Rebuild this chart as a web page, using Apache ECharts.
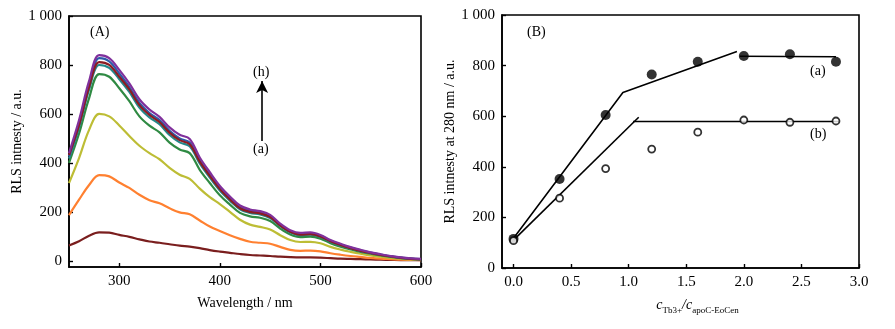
<!DOCTYPE html>
<html>
<head>
<meta charset="utf-8">
<title>RLS</title>
<script src="https://cdn.jsdelivr.net/npm/echarts@6/dist/echarts.min.js"></script>
<style>
  html, body { margin: 0; padding: 0; background: #fff; }
  #chart { width: 895px; height: 329px; }
</style>
</head>
<body>
<div id="chart"></div>
<script>
// panel A: wavelength (nm)
const wavelengths = [250, 260, 270, 280, 290, 300, 310, 320, 330, 340, 350, 360, 370, 380, 390, 400, 410, 420,
  430, 440, 450, 460, 470, 480, 490, 500, 510, 520, 530, 540, 550, 560, 570, 580, 590, 600]

// RLS spectra, curves (a) .. (h)
const curveA = [63, 80, 103, 116, 115, 106, 98, 88, 79, 74, 68, 62, 58, 52, 44, 38, 33, 28, 24, 22, 20, 17, 15, 14, 14, 13, 11, 9, 8, 7, 6, 5, 4, 3, 3, 3]
const curveB = [187, 250, 310, 350, 345, 320, 298, 270, 248, 235, 215, 198, 190, 165, 140, 122, 105, 90, 78, 74, 70, 57, 45, 41, 42, 39, 31, 25, 20, 16, 12, 9, 7, 5, 4, 3]
const curveC = [318, 420, 535, 600, 590, 553, 510, 470, 440, 415, 380, 352, 335, 295, 260, 232, 200, 168, 148, 139, 128, 105, 85, 77, 78, 72, 57, 46, 37, 29, 22, 17, 12, 8, 6, 5]
const curveD = [400, 520, 665, 763, 752, 705, 652, 590, 552, 525, 483, 455, 440, 372, 318, 268, 230, 196, 182, 176, 163, 132, 108, 97, 99, 91, 72, 58, 47, 37, 29, 22, 16, 11, 8, 6]
const curveE = [418, 545, 700, 800, 788, 742, 690, 626, 586, 558, 514, 484, 468, 398, 340, 287, 246, 211, 196, 190, 175, 142, 116, 105, 107, 98, 78, 63, 51, 40, 31, 24, 18, 12, 8, 6]
const curveF = [428, 560, 720, 828, 815, 765, 710, 645, 604, 575, 531, 500, 483, 411, 352, 298, 256, 219, 204, 197, 182, 147, 121, 109, 111, 102, 82, 67, 54, 43, 34, 26, 19, 13, 9, 7]
const curveG = [432, 555, 710, 812, 800, 752, 700, 636, 596, 567, 524, 493, 476, 405, 347, 293, 251, 215, 200, 194, 179, 145, 119, 107, 109, 100, 80, 65, 52, 41, 32, 24, 18, 12, 8, 6]
const curveH = [440, 575, 735, 840, 828, 780, 725, 660, 618, 588, 545, 515, 498, 422, 362, 306, 263, 226, 210, 203, 188, 152, 125, 114, 116, 106, 85, 70, 56, 45, 35, 27, 20, 14, 10, 8]

// panel B: c(Tb3+)/c(apoC-EoCen)
const ratios = [0, 0.4, 0.8, 1.2, 1.6, 2.0, 2.4, 2.8]
const rlsA = [115, 352, 605, 765, 815, 838, 845, 815]
const rlsB = [108, 276, 393, 470, 537, 585, 576, 581]
// fitted segments
const fitA1 = [[0, 118], [0.95, 694], [1.94, 856]]
const fitA2 = [[1.965, 837], [2.8, 835]]
const fitB1 = [[0, 110], [1.087, 596]]
const fitB2 = [[1.038, 579], [2.826, 579]]

// tick labels
const ticksA_x = [300, 400, 500, 600]
const ticksA_y = [0, 200, 400, 600, 800, 1000]
const ticksB_x = [0, 0.5, 1.0, 1.5, 2.0, 2.5, 3.0]

const curves = [curveA, curveB, curveC, curveD, curveE, curveF, curveG, curveH]
const colors = ['#7a1e1e', '#ff8030', '#bdbd35', '#2f8a43', '#23888a', '#2d5aa8', '#8b1c22', '#80309c']

const font = 'Liberation Serif'
const labelStyle = { color: '#000', fontFamily: font, fontSize: 15 }
const thousands = v => (v === 1000 ? '1 000' : String(v))

const chart = echarts.init(document.getElementById('chart'))

const seriesA = curves.map((c, i) => ({
  type: 'line',
  xAxisIndex: 0,
  yAxisIndex: 0,
  data: wavelengths.map((w, j) => [w, c[j]]),
  smooth: 0.35,
  showSymbol: false,
  lineStyle: { color: colors[i], width: 2.2 },
  z: 2 + i,
  silent: true
}))

function fitLine(data) {
  return {
    type: 'line',
    xAxisIndex: 1,
    yAxisIndex: 1,
    data: data,
    showSymbol: false,
    lineStyle: { color: '#000', width: 1.6 },
    silent: true
  }
}

chart.setOption({
  animation: false,
  grid: [
    { left: 69, top: 16, width: 352, height: 251, show: true, borderColor: '#000', borderWidth: 1.6 },
    { left: 502, top: 15, width: 357, height: 253, show: true, borderColor: '#000', borderWidth: 1.6 }
  ],
  xAxis: [
    {
      gridIndex: 0, type: 'value', min: 250, max: 600,
      name: 'Wavelength / nm', nameLocation: 'middle', nameGap: 29,
      nameTextStyle: { color: '#000', fontFamily: font, fontSize: 14 },
      axisLine: { onZero: false, lineStyle: { color: '#000', width: 1.6 } },
      axisTick: { inside: true, length: 4, customValues: ticksA_x, lineStyle: { color: '#000', width: 1.4 } },
      axisLabel: Object.assign({ customValues: ticksA_x, margin: 7 }, labelStyle),
      splitLine: { show: false }
    },
    {
      gridIndex: 1, type: 'value', min: -0.1, max: 3.0,
      name: '{i|c}{s|Tb}{u|3+}{n|/}{i|c}{s|apoC-EoCen}', nameLocation: 'middle', nameGap: 27,
      nameTextStyle: {
        color: '#000', fontFamily: font, padding: [0, 0, 0, 34],
        rich: {
          i: { fontFamily: font, fontStyle: 'italic', fontSize: 14, color: '#000', lineHeight: 20, verticalAlign: 'middle' },
          n: { fontFamily: font, fontStyle: 'italic', fontSize: 14, color: '#000', lineHeight: 20, verticalAlign: 'middle' },
          s: { fontFamily: font, fontSize: 9, color: '#000', lineHeight: 20, padding: [10, 0, 0, 0], verticalAlign: 'bottom' },
          u: { fontFamily: font, fontSize: 9, color: '#000', lineHeight: 20, padding: [5, 0, 0, 0], verticalAlign: 'bottom' }
        }
      },
      axisLine: { onZero: false, lineStyle: { color: '#000', width: 1.6 } },
      axisTick: { inside: true, length: 4, customValues: ticksB_x, lineStyle: { color: '#000', width: 1.4 } },
      axisLabel: Object.assign({ customValues: ticksB_x, margin: 7, formatter: v => v.toFixed(1) }, labelStyle),
      splitLine: { show: false }
    }
  ],
  yAxis: [
    {
      gridIndex: 0, type: 'value', min: -25, max: 1000,
      name: 'RLS intnesty / a.u.', nameLocation: 'middle', nameGap: 45,
      nameTextStyle: { color: '#000', fontFamily: font, fontSize: 14 },
      axisLine: { onZero: false, lineStyle: { color: '#000', width: 1.6 } },
      axisTick: { inside: true, length: 4, customValues: ticksA_y, lineStyle: { color: '#000', width: 1.4 } },
      axisLabel: Object.assign({ customValues: ticksA_y, margin: 7, formatter: thousands }, labelStyle),
      splitLine: { show: false }
    },
    {
      gridIndex: 1, type: 'value', min: 0, max: 1000, interval: 200,
      name: 'RLS intnesty at 280 nm / a.u.', nameLocation: 'middle', nameGap: 45,
      nameTextStyle: { color: '#000', fontFamily: font, fontSize: 14 },
      axisLine: { onZero: false, lineStyle: { color: '#000', width: 1.6 } },
      axisTick: { inside: true, length: 4, lineStyle: { color: '#000', width: 1.4 } },
      axisLabel: Object.assign({ margin: 7, formatter: thousands }, labelStyle),
      splitLine: { show: false }
    }
  ],
  series: seriesA.concat([
    // arrow (a) -> (h)
    {
      type: 'line', xAxisIndex: 0, yAxisIndex: 0, data: [], silent: true,
      markLine: {
        silent: true,
        symbol: ['none', 'arrow'],
        symbolSize: [9, 12],
        label: { show: false },
        lineStyle: { color: '#000', width: 1.6, type: 'solid' },
        data: [[{ coord: [442, 490] }, { coord: [442, 735] }]]
      }
    },
    fitLine(fitA1),
    fitLine(fitA2),
    fitLine(fitB1),
    fitLine(fitB2),
    {
      type: 'scatter', xAxisIndex: 1, yAxisIndex: 1,
      data: ratios.map((r, i) => [r, rlsA[i]]),
      symbol: 'circle', symbolSize: 10,
      itemStyle: { color: '#000' }, z: 5, silent: true
    },
    {
      type: 'scatter', xAxisIndex: 1, yAxisIndex: 1,
      data: ratios.map((r, i) => [r, rlsB[i]]),
      symbol: 'circle', symbolSize: 7,
      itemStyle: { color: '#fff', borderColor: '#000', borderWidth: 1.8 }, z: 5, silent: true
    }
  ]),
  graphic: [
    { type: 'text', left: 90, top: 25, style: { text: '(A)', font: '14px "Liberation Serif"', fill: '#000' } },
    { type: 'text', left: 253, top: 65, style: { text: '(h)', font: '14px "Liberation Serif"', fill: '#000' } },
    { type: 'text', left: 253, top: 142, style: { text: '(a)', font: '14px "Liberation Serif"', fill: '#000' } },
    { type: 'text', left: 527, top: 25, style: { text: '(B)', font: '14px "Liberation Serif"', fill: '#000' } },
    { type: 'text', left: 810, top: 64, style: { text: '(a)', font: '14px "Liberation Serif"', fill: '#000' } },
    { type: 'text', left: 810, top: 127, style: { text: '(b)', font: '14px "Liberation Serif"', fill: '#000' } }
  ]
})
</script>
</body>
</html>
